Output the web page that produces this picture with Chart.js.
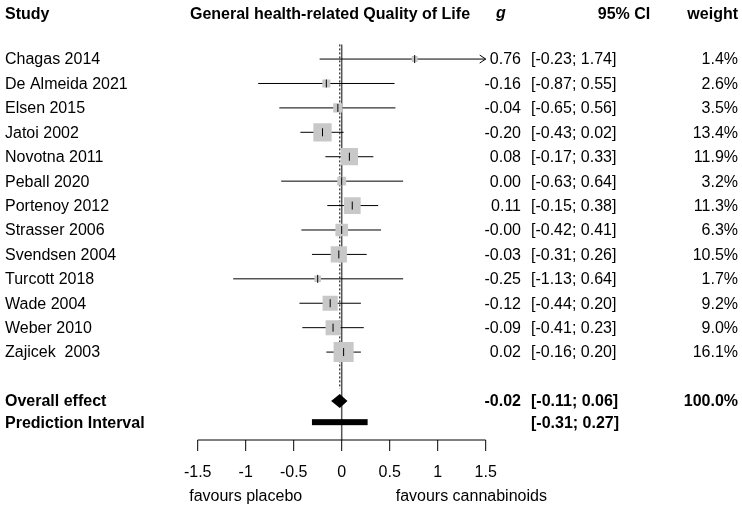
<!DOCTYPE html><html><head><style>body{margin:0;background:#fff}</style>
<script src="https://cdn.jsdelivr.net/npm/chart.js"></script></head><body>
<canvas id="c" width="742" height="512" style="display:block"></canvas>
<script>
const studies=["Chagas 2014","De Almeida 2021","Elsen 2015","Jatoi 2002","Novotna 2011","Peball 2020","Portenoy 2012","Strasser 2006","Svendsen 2004","Turcott 2018","Wade 2004","Weber 2010","Zajicek  2003"];
const g=[0.76,-0.16,-0.04,-0.20,0.08,0.00,0.11,-0.00,-0.03,-0.25,-0.12,-0.09,0.02];
const lo=[-0.23,-0.87,-0.65,-0.43,-0.17,-0.63,-0.15,-0.42,-0.31,-1.13,-0.44,-0.41,-0.16];
const hi=[1.74,0.55,0.56,0.02,0.33,0.64,0.38,0.41,0.26,0.64,0.20,0.23,0.20];
const gText=["0.76","-0.16","-0.04","-0.20","0.08","0.00","0.11","-0.00","-0.03","-0.25","-0.12","-0.09","0.02"];
const weight=[1.4,2.6,3.5,13.4,11.9,3.2,11.3,6.3,10.5,1.7,9.2,9.0,16.1];
const overall=[-0.02,-0.11,0.06];
const pred=[-0.31,0.27];
const xTicks=[-1.5,-1,-0.5,0,0.5,1,1.5];
const xMin=-1.5,xMax=1.5;
const fmt=v=>(v<0?"-":"")+Math.abs(v).toFixed(2);
const F='"Liberation Sans", Arial, sans-serif';
const rowY=i=>i;
const OV=14, PR=14.87;
const plugin={id:'forest',
beforeDatasetsDraw(ch){const c=ch.ctx,X=ch.scales.x,Y=ch.scales.y;c.save();
 c.strokeStyle='#555';c.lineWidth=1.5;c.beginPath();c.moveTo(X.getPixelForValue(0),Y.getPixelForValue(-0.6));c.lineTo(X.getPixelForValue(0),Y.getPixelForValue(15.6));c.stroke();
 c.strokeStyle='#000';c.lineWidth=1;c.setLineDash([2,2]);c.beginPath();c.moveTo(X.getPixelForValue(overall[0]),Y.getPixelForValue(-0.6));c.lineTo(X.getPixelForValue(overall[0]),Y.getPixelForValue(13.5));c.stroke();c.setLineDash([]);
 c.strokeStyle='#000';c.lineWidth=1;
 studies.forEach((s,i)=>{const y=Y.getPixelForValue(rowY(i));const a=X.getPixelForValue(Math.max(lo[i],xMin)),b=X.getPixelForValue(Math.min(hi[i],xMax));c.beginPath();c.moveTo(a,y);c.lineTo(b,y);c.stroke();
  if(hi[i]>xMax){c.beginPath();c.moveTo(b-6,y-4);c.lineTo(b,y);c.lineTo(b-6,y+4);c.stroke();}});
 c.restore();},
afterDatasetsDraw(ch){const c=ch.ctx,X=ch.scales.x,Y=ch.scales.y;c.save();
 c.strokeStyle='#000';c.lineWidth=1;
 studies.forEach((s,i)=>{const y=Y.getPixelForValue(rowY(i)),x=X.getPixelForValue(g[i]);c.beginPath();c.moveTo(x,y-4);c.lineTo(x,y+4);c.stroke();});
 const yo=Y.getPixelForValue(OV);c.fillStyle='#000';c.beginPath();c.moveTo(X.getPixelForValue(overall[1]),yo);c.lineTo(X.getPixelForValue(overall[0]),yo-7);c.lineTo(X.getPixelForValue(overall[2]),yo);c.lineTo(X.getPixelForValue(overall[0]),yo+7);c.closePath();c.fill();
 const yp=Y.getPixelForValue(PR);c.fillRect(X.getPixelForValue(pred[0]),yp-3,X.getPixelForValue(pred[1])-X.getPixelForValue(pred[0]),6);
 const ya=Y.getPixelForValue(15.6);c.beginPath();c.moveTo(X.getPixelForValue(xMin),ya);c.lineTo(X.getPixelForValue(xMax),ya);c.stroke();
 c.font='16px '+F;c.textAlign='center';c.textBaseline='middle';
 xTicks.forEach(t=>{const x=X.getPixelForValue(t);c.beginPath();c.moveTo(x,ya);c.lineTo(x,ya+11);c.stroke();c.fillText(String(t),x,ya+33);});
 c.fillText('favours placebo',X.getPixelForValue(-1),ya+57);c.fillText('favours cannabinoids',X.getPixelForValue(1.35),ya+57);
 c.textAlign='left';c.font='bold 16px '+F;c.fillText('Study',5,15);
 c.textAlign='center';c.fillText('General health-related Quality of Life',330,15);
 c.font='bold italic 16px '+F;c.fillText('g',501,14);
 c.font='bold 16px '+F;c.fillText('95% CI',624,15);c.textAlign='right';c.fillText('weight',738,15);
 c.font='16px '+F;
 studies.forEach((s,i)=>{const y=Y.getPixelForValue(rowY(i));c.textAlign='left';c.fillText(s,5,y+1);c.fillText('['+fmt(lo[i])+'; '+fmt(hi[i])+']',531,y+1);c.textAlign='right';c.fillText(gText[i],521,y+1);c.fillText(weight[i].toFixed(1)+'%',738,y+1);});
 c.font='bold 16px '+F;c.textAlign='left';c.fillText('Overall effect',5,yo+1);c.fillText('Prediction Interval',5,yp+1);
 c.fillText('['+fmt(overall[1])+'; '+fmt(overall[2])+']',531,yo+1);c.fillText('['+fmt(pred[0])+'; '+fmt(pred[1])+']',531,yp+1);
 c.textAlign='right';c.fillText(fmt(overall[0]),521,yo+1);c.fillText('100.0%',738,yo+1);
 c.restore();}};
new Chart(document.getElementById('c'),{type:'scatter',
data:{datasets:[{data:studies.map((s,i)=>({x:g[i],y:rowY(i)})),pointStyle:'rect',pointRadius:weight.map(w=>5*Math.sqrt(w)/Math.SQRT2),pointHoverRadius:weight.map(w=>5*Math.sqrt(w)/Math.SQRT2),backgroundColor:'#c8c8c8',borderWidth:0}]},
options:{responsive:false,animation:false,devicePixelRatio:1,layout:{padding:{left:197.7,right:256.3,top:44.4,bottom:72}},
plugins:{legend:{display:false},tooltip:{enabled:false}},
scales:{x:{type:'linear',min:xMin,max:xMax,display:false},y:{type:'linear',min:-0.6,max:15.6,reverse:true,display:false}}},
plugins:[plugin]});
</script></body></html>
